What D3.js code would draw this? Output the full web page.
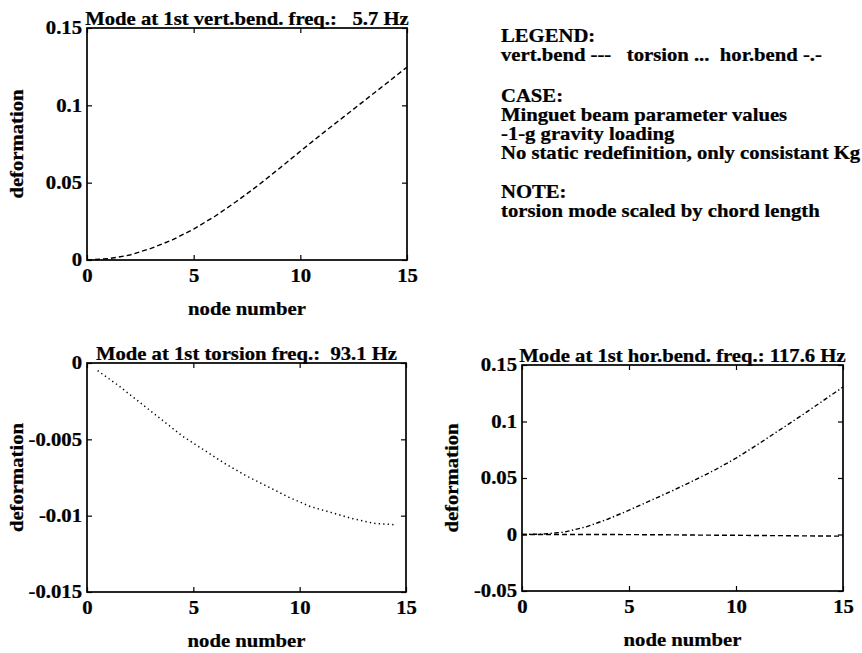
<!DOCTYPE html>
<html>
<head>
<meta charset="utf-8">
<script src="https://cdn.jsdelivr.net/npm/d3@7"></script>
<style>
  html, body { margin: 0; padding: 0; background: #fff; }
  svg text {
    font-family: "Liberation Serif", "Times New Roman", serif;
    font-weight: bold;
    font-size: 18px;
    fill: #000;
    stroke: #000;
    stroke-width: 0.25px;
    white-space: pre;
    transform-box: fill-box;
    transform: scaleX(1.15);
  }
  .a-start { transform-origin: left center; }
  .a-mid { transform-origin: center; }
  .a-end { transform-origin: right center; }
</style>
</head>
<body>
<div id="chart"></div>
<script>
// node numbers along the beam
var nodes = [0, 1, 2, 3, 4, 5, 6, 7, 8, 9, 10, 11, 12, 13, 14, 15];
var torsionNodes = [0.5, 1.5, 2.5, 3.5, 4.5, 5.5, 6.5, 7.5, 8.5, 9.5, 10.5, 11.5, 12.5, 13.5, 14.5];

// mode 1: vertical bending (5.7 Hz)
var vertBend = [0, 0.0008, 0.0032, 0.0075, 0.0130, 0.0200, 0.0283, 0.0378,
                0.0480, 0.0590, 0.0703, 0.0814, 0.0922, 0.1030, 0.1138, 0.1247];

// mode 2: torsion (93.1 Hz), scaled by chord length
var torsion = [-0.0005, -0.0015, -0.0026, -0.0037, -0.0048, -0.0057, -0.0066, -0.0074,
               -0.0081, -0.0088, -0.0094, -0.0098, -0.0102, -0.0105, -0.0106];

// mode 3: horizontal bending (117.6 Hz) and its vertical component
var horBend = [0, 0.0004, 0.0022, 0.0068, 0.0135, 0.0215, 0.0300, 0.0385,
               0.0475, 0.0570, 0.0675, 0.0795, 0.0920, 0.1045, 0.1175, 0.1305];
var horVert = [0, 0, 0, 0, 0, -0.0001, -0.0002, -0.0003,
               -0.0005, -0.0006, -0.0007, -0.0009, -0.0010, -0.0012, -0.0013, -0.0015];

var xTicks = [0, 5, 10, 15];
var yTicksVert = [0, 0.05, 0.1, 0.15];
var yTicksTors = [-0.015, -0.01, -0.005, 0];
var yTicksHor = [-0.05, 0, 0.05, 0.1, 0.15];

var titles = ["Mode at 1st vert.bend. freq.:   5.7 Hz",
              "Mode at 1st torsion freq.:  93.1 Hz",
              "Mode at 1st hor.bend. freq.: 117.6 Hz"];

var legendLines = ["LEGEND:", "vert.bend ---   torsion ...  hor.bend -.-",
                   "CASE:", "Minguet beam parameter values", "-1-g gravity loading",
                   "No static redefinition, only consistant Kg",
                   "NOTE:", "torsion mode scaled by chord length"];
var legendY = [42, 61, 102, 121, 140, 159, 198, 217];

var dashes = { vert: "5,3", tors: "1.3,3.2", hor: "4.5,2.5,1.3,2.5" };

var svg = d3.select("#chart").append("svg")
  .attr("width", 862)
  .attr("height", 653);

function panel(box, yDomain, yTicks, title, series) {
  var x = d3.scaleLinear().domain([0, 15]).range([box.left, box.right]);
  var y = d3.scaleLinear().domain(yDomain).range([box.bottom, box.top]);
  var g = svg.append("g");

  var fmt = d => String(d);

  g.append("g")
    .attr("transform", `translate(${box.left},0)`)
    .call(d3.axisLeft(y).tickValues(yTicks).tickFormat(fmt).tickSizeInner(-5).tickSizeOuter(0).tickPadding(5))
    .call(a => a.select(".domain").remove())
    .call(a => a.selectAll(".tick text").attr("class", "a-end"));
  g.append("g")
    .attr("transform", `translate(${box.right},0)`)
    .call(d3.axisRight(y).tickValues(yTicks).tickFormat("").tickSizeInner(-5).tickSizeOuter(0))
    .call(a => a.select(".domain").remove());
  g.append("g")
    .attr("transform", `translate(0,${box.bottom})`)
    .call(d3.axisBottom(x).tickValues(xTicks).tickFormat(fmt).tickSizeInner(-5).tickSizeOuter(0).tickPadding(9))
    .call(a => a.select(".domain").remove())
    .call(a => a.selectAll(".tick text").attr("class", "a-mid"));
  g.append("g")
    .attr("transform", `translate(0,${box.top})`)
    .call(d3.axisTop(x).tickValues(xTicks).tickFormat("").tickSizeInner(-5).tickSizeOuter(0))
    .call(a => a.select(".domain").remove());

  g.selectAll(".tick line").attr("stroke", "#000").attr("stroke-width", 1.2);

  g.append("rect")
    .attr("x", box.left).attr("y", box.top)
    .attr("width", box.right - box.left).attr("height", box.bottom - box.top)
    .attr("fill", "none").attr("stroke", "#000").attr("stroke-width", 1.7);

  series.forEach(function(s) {
    var line = d3.line().x((d, i) => x(s.xs[i])).y(d => y(d));
    g.append("path")
      .attr("d", line(s.ys))
      .attr("fill", "none")
      .attr("stroke", "#000")
      .attr("stroke-width", s.w || 1.4)
      .attr("stroke-dasharray", s.dash);
  });

  g.append("text")
    .attr("class", "a-mid")
    .attr("x", (box.left + box.right) / 2)
    .attr("y", box.top - 3)
    .attr("text-anchor", "middle")
    .text(title);

  g.append("text")
    .attr("class", "a-mid")
    .attr("x", (box.left + box.right) / 2)
    .attr("y", box.bottom + 55)
    .attr("text-anchor", "middle")
    .text("node number");

  g.append("g")
    .attr("transform", `translate(${box.left - 64},${(box.top + box.bottom) / 2}) rotate(-90)`)
    .append("text")
    .attr("class", "a-mid")
    .attr("text-anchor", "middle")
    .text("deformation");
}

panel({ left: 87, right: 407, top: 28, bottom: 260 }, [0, 0.15], yTicksVert, titles[0],
  [{ xs: nodes, ys: vertBend, dash: dashes.vert }]);

panel({ left: 87, right: 406, top: 363, bottom: 592 }, [-0.015, 0], yTicksTors, titles[1],
  [{ xs: torsionNodes, ys: torsion, dash: dashes.tors, w: 1.5 }]);

panel({ left: 522, right: 843, top: 365, bottom: 591 }, [-0.05, 0.15], yTicksHor, titles[2],
  [{ xs: nodes, ys: horVert, dash: dashes.vert },
   { xs: nodes, ys: horBend, dash: dashes.hor }]);

// text block on the upper right
svg.append("g").selectAll("text")
  .data(legendLines)
  .enter().append("text")
  .attr("class", "a-start")
  .attr("x", 501)
  .attr("y", (d, i) => legendY[i])
  .text(d => d);
</script>
</body>
</html>
